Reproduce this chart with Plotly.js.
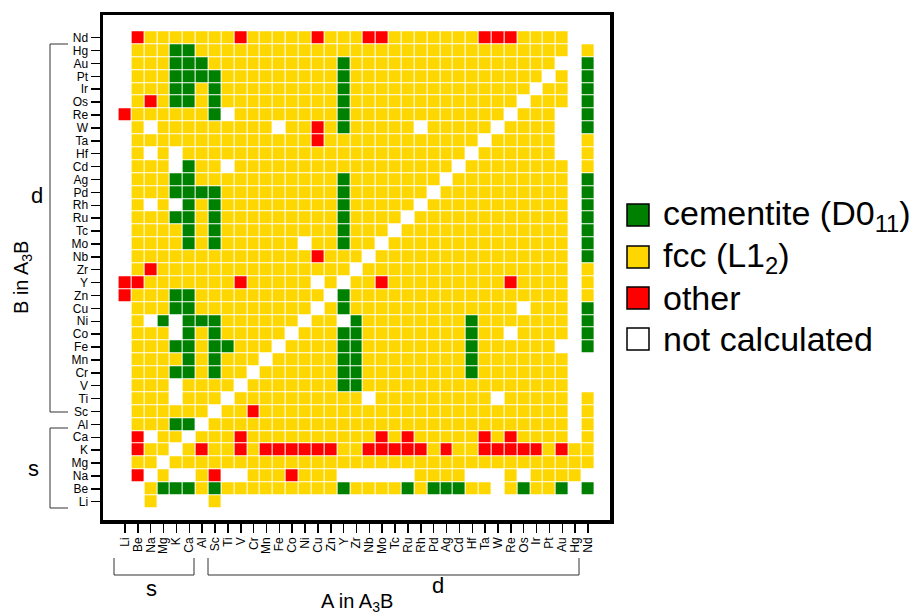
<!DOCTYPE html>
<html><head><meta charset="utf-8">
<script src="https://cdn.plot.ly/plotly-3.0.1.min.js"></script>
<style>html,body{margin:0;padding:0;background:#fff}#chart{width:914px;height:614px}</style>
</head><body><div id="chart"></div>
<script>
// A elements (x axis, left to right) and B elements (y axis, bottom to top)
const elementsA = ['Li','Be','Na','Mg','K','Ca','Al','Sc','Ti','V','Cr','Mn','Fe','Co','Ni','Cu','Zn','Y','Zr','Nb','Mo','Tc','Ru','Rh','Pd','Ag','Cd','Hf','Ta','W','Re','Os','Ir','Pt','Au','Hg','Nd'];
const elementsB = ['Li','Be','Na','Mg','K','Ca','Al','Sc','Ti','V','Cr','Mn','Fe','Co','Ni','Cu','Zn','Y','Zr','Nb','Mo','Tc','Ru','Rh','Pd','Ag','Cd','Hf','Ta','W','Re','Os','Ir','Pt','Au','Hg','Nd'];

const phaseLabels = ['cementite (D0<sub>11</sub>)', 'fcc (L1<sub>2</sub>)', 'other', 'not calculated'];
const phaseColors = ['#008000', '#FFD700', '#FF0000', '#FFFFFF'];
// G = cementite, Y = fcc, R = other, . = not calculated
const phaseCodes = {G: 1, Y: 2, R: 3};

// Rows of B from top (Nd) to bottom (Li); columns follow elementsA in groups of 5
const rowsB = ['Nd','Hg','Au','Pt','Ir','Os','Re','W','Ta','Hf','Cd','Ag','Pd','Rh','Ru','Tc','Mo','Nb','Zr','Y','Zn','Cu','Ni','Co','Fe','Mn','Cr','V','Ti','Sc','Al','Ca','K','Mg','Na','Be','Li'];
const phaseRows = [
  '.RYYY YYYYR YYYYY RYYYR RYYYY YYYRR RYYYY ..', // Nd
  '.YYYG GYYYY YYYYY YYYYY YYYYY YYYYY YYYYY .Y', // Hg
  '.YYYG GGYYY YYYYY YYGYY YYYYY YYYYY YYYY. .G', // Au
  '.YYYG GGGYY YYYYY YYGYY YYYYY YYYYY YYY.Y .G', // Pt
  '.YYYG GYGYY YYYYY YYGYY YYYYY YYYYY YY.YY .G', // Ir
  '.YRYG GYGYY YYYYY YYGYY YYYYY YYYYY Y.YYY .G', // Os
  'RYYYY YYG.Y YYYYY YYGYY YYYYY YYYYY .YYY. .G', // Re
  '.Y.YY YYYYY YY.YY RYGYY YYY.Y YYYY. YYYY. .G', // W
  '.YYYY YYYYY YYYYY RYYYY YYYYY YYY.Y YYYY. .Y', // Ta
  '.Y.Y. YYYYY YYYYY YYYYY YYYYY YY.YY YYYY. .Y', // Hf
  '.YYY. GYY.Y YYYYY YYYYY YYYYY Y.YYY YYYYY .Y', // Cd
  '.YYYG GYYYY YYYYY YYGYY YYYYY .YYYY YYYYY .G', // Ag
  '.YYYG GGGYY YYYYY YYGYY YYYY. YYYYY YYYYY .G', // Pd
  '.Y.Y. GYGYY YYYYY YYGYY YYY.Y YYYYY YYYYY .G', // Rh
  '.YYYG GYGYY YYYYY YYGYY YY.YY YYYYY YYYYY .G', // Ru
  '.YYYY GYGYY YYYYY YYGYY Y.YYY YYYYY YYYYY .G', // Tc
  '.YYYY GYGYY YYYY. YYGYY .YYYY YYYYY YYYYY .G', // Mo
  '.YYYY YYYYY YYYYY RYYY. YYYYY YYYYY YYYYY .G', // Nb
  '.YRYY YYYYY YYYYY YYY.Y YYYYY YYYYY YYYYY .Y', // Zr
  'RRYYY YYYYR YYYYY .Y.YY RYYYY YYYYY RYYYY .Y', // Y
  'RYYYG GYYYY YYYYY Y.GYY YYYYY YYYYY YYYYY .Y', // Zn
  '.YYYG GYYYY YYYYY .YGYY YYYYY YYYYY Y.YYY .G', // Cu
  '.Y.G. GGGYY YYYY. YY.GY YYYYY YYGYY YYYYY .G', // Ni
  '.YYY. GYGYY YYY.Y YYGGY YYYYY YYGYY .YYYY .G', // Co
  '.YYYG GYGGY YY.YY YYGGY YYYYY YYGYY YYYY. .G', // Fe
  '.YYYY GYGYY Y.YYY YYGGY YYYYY YYGYY YYYYY ..', // Mn
  '.YYYG GYGYY .YYYY YYGGY YYYYY YYGYY YYYYY ..', // Cr
  '.YYY. YYYY. YYYYY YYGGY YYYYY YYYYY YYYYY ..', // V
  '.YYY. YYY.Y YYYYY YYYY. YYYYY YYYY. YYYYY .Y', // Ti
  '.YYYY YY.YY RYYYY YYYYY YYYYY YYYYY YYYYY .Y', // Sc
  '.YYYG G.YYY YYYYY YYYYY YYYYY YYYYY YYYYY .Y', // Al
  '.R.YY .YYYR YYYYY YYYYY RYRYY YYYRY RYYYY .Y', // Ca
  '.RYY. YRYYR YRRRR RRYYR RRRRY RYYRR RRRYR YY', // K
  '.YY.Y YYYYY YYYYY YYYYY YYYYY YYYYY YYYYY YY', // Mg
  '.R.Y. .YR.. YYYRY YY... ...YY YY... Y.YYY Y.', // Na
  '..YGG GYGYY YYYYY YYGYY YYGYG GGYY. YGYYG .G', // Be
  '..Y.. ..Y.. ..... ..... ..... ..... ..... ..'  // Li
];

// Build z in elementsB order (bottom to top)
const z = elementsB.map(b => {
  const s = phaseRows[rowsB.indexOf(b)].replace(/ /g, '');
  if (s.length !== elementsA.length) console.error('bad row', b, s.length);
  return s.split('').map(c => (c in phaseCodes) ? phaseCodes[c] : null);
});

// Layout geometry
const W = 914, H = 614;
const M = {l: 103, r: 304, t: 15, b: 94};
const pw = W - M.l - M.r, ph = H - M.t - M.b;
const px = x => (x - M.l) / pw;
const py = y => (H - M.b - y) / ph;

const font = 'Arial, "Liberation Sans", sans-serif';

const heat = {
  type: 'heatmap',
  x: elementsA, y: elementsB, z: z,
  zmin: 1, zmax: 3,
  colorscale: [[0, phaseColors[0]], [0.25, phaseColors[0]], [0.25, phaseColors[1]], [0.75, phaseColors[1]], [0.75, phaseColors[2]], [1, phaseColors[2]]],
  showscale: false, xgap: 1, ygap: 1, hoverinfo: 'x+y'
};

const lineStyle = {color: '#333', width: 1};
const shapes = [];
function seg(x0, y0, x1, y1) {
  shapes.push({type: 'line', xref: 'paper', yref: 'paper', x0: px(x0), y0: py(y0), x1: px(x1), y1: py(y1), line: lineStyle});
}
// left brackets (d and s groups of B)
[[44, 412], [428, 508]].forEach(([a, b]) => { seg(50, a, 50, b); seg(50, a, 68, a); seg(50, b, 68, b); });
// bottom brackets (s and d groups of A)
[[114, 194], [208, 579]].forEach(([a, b]) => { seg(a, 575, b, 575); seg(a, 558, a, 575); seg(b, 558, b, 575); });

const annotations = [
  {text: 's', x: px(151), y: py(588), font: {size: 22}},
  {text: 'd', x: px(438), y: py(585), font: {size: 22}},
  {text: 'A in A<sub>3</sub>B', x: px(357), y: py(602), font: {size: 20}},
  {text: 'd', x: px(37), y: py(195), font: {size: 22}},
  {text: 's', x: px(33), y: py(468), font: {size: 22}},
  {text: 'B in A<sub>3</sub>B', x: px(22), y: py(278), font: {size: 20}, textangle: -90}
].map(a => Object.assign({xref: 'paper', yref: 'paper', showarrow: false, xanchor: 'center', yanchor: 'middle'}, a));

// legend (drawn manually)
const legendY = [215, 257, 298, 339];
phaseLabels.forEach((lab, i) => {
  const cy = legendY[i];
  shapes.push({type: 'rect', xref: 'paper', yref: 'paper', x0: px(627), x1: px(649), y0: py(cy - 11), y1: py(cy + 11), fillcolor: phaseColors[i], line: {color: '#000', width: 1.5}});
  annotations.push({xref: 'paper', yref: 'paper', showarrow: false, xanchor: 'left', yanchor: 'middle', x: px(661), y: py(cy), text: lab, font: {size: 34}});
});

const layout = {
  width: W, height: H, margin: M, paper_bgcolor: '#fff', plot_bgcolor: '#fff',
  font: {family: font, color: '#000'},
  showlegend: false,
  xaxis: {type: 'category', range: [-1.711, 37.711], showgrid: false, zeroline: false,
    tickmode: 'linear', tick0: 0, dtick: 1,
    showline: true, mirror: true, linewidth: 3.5, linecolor: '#000',
    ticks: 'outside', ticklen: 9, tickwidth: 1.5, tickcolor: '#000', tickangle: -90,
    tickfont: {size: 12}, fixedrange: true},
  yaxis: {type: 'category', range: [-1.42, 37.76], showgrid: false, zeroline: false,
    tickmode: 'linear', tick0: 0, dtick: 1,
    showline: true, mirror: true, linewidth: 3.5, linecolor: '#000',
    ticks: 'outside', ticklen: 9, tickwidth: 1.5, tickcolor: '#000',
    tickfont: {size: 12}, fixedrange: true},
  shapes: shapes, annotations: annotations
};

Plotly.newPlot('chart', [heat], layout, {displayModeBar: false, staticPlot: true});
</script></body></html>
